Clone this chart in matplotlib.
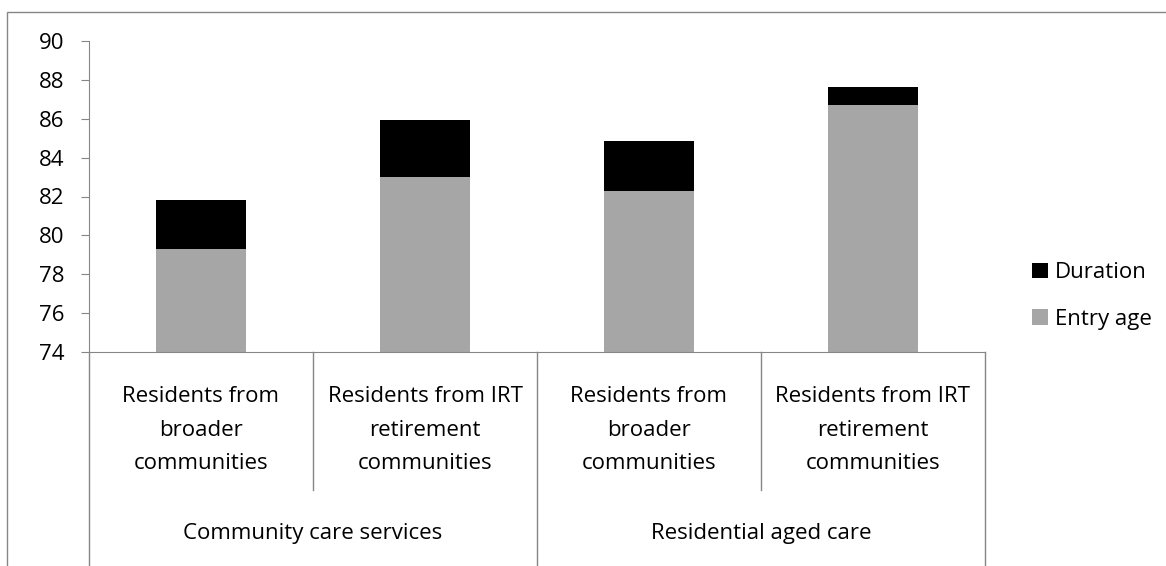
import matplotlib
matplotlib.use("Agg")
import matplotlib.pyplot as plt
from matplotlib.patches import Rectangle
from matplotlib.transforms import blended_transform_factory

# Average entry age and length of stay, by care type and origin
groups = ["Community care services", "Residential aged care"]
subgroups = [
    "Residents from\nbroader\ncommunities",
    "Residents from IRT\nretirement\ncommunities",
    "Residents from\nbroader\ncommunities",
    "Residents from IRT\nretirement\ncommunities",
]
entry_age = [79.3, 83.02, 82.26, 86.73]
duration = [2.51, 2.92, 2.61, 0.90]

GREY = "#A6A6A6"
AXIS = "#868686"
FS = 16
plt.rcParams["font.family"] = ["Open Sans", "DejaVu Sans"]

W, H = 1166, 566
fig = plt.figure(figsize=(W / 100, H / 100), dpi=100)
ax = fig.add_axes([89 / W, 1 - 352 / H, (985 - 89) / W, (352 - 41) / H])

x = list(range(len(subgroups)))
# bars start at zero and are clipped at the 74 baseline
ax.bar(x, entry_age, 0.4, color=GREY, label="Entry age")
ax.bar(x, duration, 0.4, bottom=entry_age, color="black", label="Duration")

ax.set_ylim(74, 90)
ax.set_xlim(-0.5, len(subgroups) - 0.5)
ax.set_yticks(range(74, 91, 2))
ax.tick_params(axis="y", direction="out", length=6, color=AXIS, labelsize=FS, pad=12)
ax.set_xticks([])
for side in ("top", "right"):
    ax.spines[side].set_visible(False)
for side in ("left", "bottom"):
    ax.spines[side].set_color(AXIS)

# two-level category axis
tr = blended_transform_factory(ax.transData, ax.transAxes)
ah = 352 - 41
inner_bottom = -(490 - 352) / ah
outer_bottom = -(570 - 352) / ah
for i in range(len(subgroups) + 1):
    xd = i - 0.5
    yb = outer_bottom if i % 2 == 0 else inner_bottom
    ax.plot([xd, xd], [0, yb], color=AXIS, lw=1, transform=tr, clip_on=False)
for xi, lab in zip(x, subgroups):
    ax.text(xi, -(430 - 352) / ah, lab, transform=tr, ha="center", va="center",
            fontsize=FS, linespacing=1.8)
for gi, g in enumerate(groups):
    ax.text(gi * 2 + 0.5, -(533 - 352) / ah, g, transform=tr, ha="center",
            va="center", fontsize=FS)

handles, labels = ax.get_legend_handles_labels()
ax.legend(handles[::-1], labels[::-1], loc="center left", frameon=False,
          bbox_to_anchor=(1012 / W, 1 - 296 / H), bbox_transform=fig.transFigure,
          fontsize=FS, handlelength=0.7, handleheight=0.7, handletextpad=0.35,
          labelspacing=1.15)

# chart border
fig.add_artist(Rectangle((7 / W, -0.1), 1.2, 1 - 12 / H + 0.1,
                         transform=fig.transFigure, fill=False, edgecolor=AXIS, lw=1))

fig.savefig("out.png", dpi=100)
